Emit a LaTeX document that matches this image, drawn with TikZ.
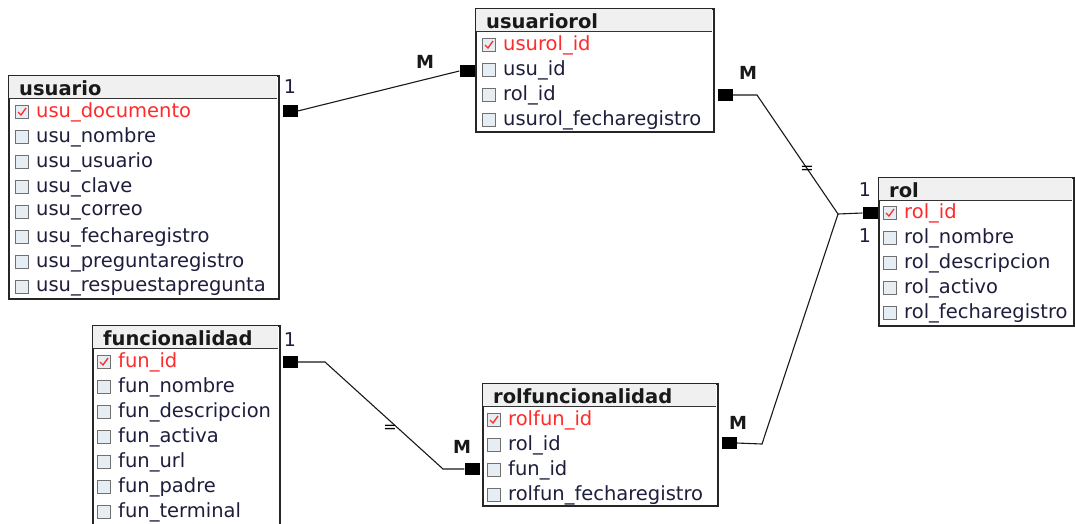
\documentclass[tikz,border=0pt]{standalone}
\usepackage{fontspec}
\setmainfont{DejaVu Sans}
\usetikzlibrary{calc}
\definecolor{fieldc}{HTML}{1E1E3C}
\definecolor{keyc}{HTML}{FF2A2A}
\definecolor{hdrc}{HTML}{F0F0F0}
\definecolor{chkb}{HTML}{707070}
\definecolor{chkf}{HTML}{E6EDF3}
\definecolor{shadowc}{HTML}{B0B0B0}
\tikzset{
  tbl/.style={draw=black!85, line width=1.6pt, fill=white, anchor=north west, inner sep=0pt},
  hdr/.style={fill=hdrc, anchor=north west, inner sep=0pt},
  ttl/.style={font=\bfseries\fontsize{19.5}{19.5}\selectfont, text=black!90, anchor=west, inner sep=0pt},
  fld/.style={font=\fontsize{19.5}{19.5}\selectfont, text=fieldc, anchor=west, inner sep=0pt},
  chk/.style={draw=chkb, fill=chkf, minimum size=13pt, inner sep=0pt, line width=0.9pt},
  card/.style={fill=black, minimum width=15pt, minimum height=12pt, inner sep=0pt},
  one/.style={font=\fontsize{19}{19}\selectfont, text=fieldc, inner sep=0pt},
  many/.style={font=\bfseries\fontsize{18}{18}\selectfont, text=black!90, inner sep=0pt},
  eqm/.style={font=\fontsize{16}{16}\selectfont, text=black, inner sep=0pt},
  rel/.style={draw=black!90, line width=1.1pt}
}
\newcommand\dbtab[6]{%
  \fill[shadowc] ($(#2,#3)+(2,2)$) rectangle ++(#4,#5);
  \node[tbl, minimum width=#4, minimum height=#5] (#1) at (#2,#3) {};
  \node[hdr, minimum width=#4-2, minimum height=22] (#1-hd) at (#2+1,#3+1) {};
  \draw[black!80, line width=1pt] (#1-hd.south west) -- (#1-hd.south east);
  \node[ttl] (#1-t) at (#2+11,#3+13) {#6};
}
\newcommand\fieldrow[4]{%
  \node[chk] (#1-c) at (#2,#3) {};
  \node[fld] (#1) at (#2+14,#3) {#4};
}
\newcommand\keyrow[4]{%
  \node[chk] (#1-c) at (#2,#3) {};
  \draw[keyc, line width=1.3pt] ($(#1-c.center)+(-4,0)$) -- ++(3,3) -- ++(5,-7);
  \node[fld, text=keyc] (#1) at (#2+14,#3) {#4};
}
\begin{document}
\begin{tikzpicture}[x=1pt,y=-1pt]
\useasboundingbox (0,0) rectangle (1075,523);
\fill[white] (0,0) rectangle (1075,523);

% usuario
\dbtab{usuario}{8}{75}{270}{223}{usuario}
\keyrow{u1}{22}{112}{usu\_documento}
\fieldrow{u2}{22}{137}{usu\_nombre}
\fieldrow{u3}{22}{162}{usu\_usuario}
\fieldrow{u4}{22}{187}{usu\_clave}
\fieldrow{u5}{22}{212}{usu\_correo}
\fieldrow{u6}{22}{237}{usu\_fecharegistro}
\fieldrow{u7}{22}{262}{usu\_preguntaregistro}
\fieldrow{u8}{22}{287}{usu\_respuestapregunta}

% usuariorol
\dbtab{usuariorol}{475}{8}{238}{123}{usuariorol}
\keyrow{ur1}{489}{45}{usurol\_id}
\fieldrow{ur2}{489}{70}{usu\_id}
\fieldrow{ur3}{489}{95}{rol\_id}
\fieldrow{ur4}{489}{120}{usurol\_fecharegistro}

% rol
\dbtab{rol}{878}{177}{195}{148}{rol}
\keyrow{r1}{890}{213}{rol\_id}
\fieldrow{r2}{890}{238}{rol\_nombre}
\fieldrow{r3}{890}{263}{rol\_descripcion}
\fieldrow{r4}{890}{288}{rol\_activo}
\fieldrow{r5}{890}{313}{rol\_fecharegistro}

% funcionalidad
\dbtab{funcionalidad}{92}{325}{187}{215}{funcionalidad}
\keyrow{f1}{104}{362}{fun\_id}
\fieldrow{f2}{104}{387}{fun\_nombre}
\fieldrow{f3}{104}{412}{fun\_descripcion}
\fieldrow{f4}{104}{437}{fun\_activa}
\fieldrow{f5}{104}{462}{fun\_url}
\fieldrow{f6}{104}{487}{fun\_padre}
\fieldrow{f7}{104}{512}{fun\_terminal}

% rolfuncionalidad
\dbtab{rolfuncionalidad}{482}{383}{235}{122}{rolfuncionalidad}
\keyrow{rf1}{494}{420}{rolfun\_id}
\fieldrow{rf2}{494}{445}{rol\_id}
\fieldrow{rf3}{494}{470}{fun\_id}
\fieldrow{rf4}{494}{495}{rolfun\_fecharegistro}

% relationship ends
\node[card] (c1a) at (290,111) {};
\node[card] (c1b) at (467,71) {};
\node[card] (c2a) at (725,95) {};
\node[card] (c2b) at (870,213) {};
\node[card] (c3a) at (729,443) {};
\node[card] (c4a) at (290,362) {};
\node[card] (c4b) at (472,469) {};

\coordinate (b2) at (757,95);
\coordinate (j) at (838,214);
\coordinate (b3) at (762,444);
\coordinate (b4a) at (325,362);
\coordinate (b4b) at (443,469);

\draw[rel] (c1a.east) -- (c1b.west);
\draw[rel] (c2a.east) -- (b2) -- (j) -- (c2b.west);
\draw[rel] (c3a.east) -- (b3) -- (j);
\draw[rel] (c4a.east) -- (b4a) -- (b4b) -- (c4b.west);

% labels
\node[one] (l1a) at (290,87) {1};
\node[many] (l1b) at (425,62) {M};
\node[many] (l2a) at (748,73) {M};
\node[one] (l2b) at (865,190) {1};
\node[one] (l2c) at (865,236) {1};
\node[many] (l3a) at (738,423) {M};
\node[one] (l4a) at (290,340) {1};
\node[many] (l4b) at (462,447) {M};
\node[eqm] (e2) at (807,170) {=};
\node[eqm] (e4) at (390,429) {=};
\end{tikzpicture}
\end{document}
